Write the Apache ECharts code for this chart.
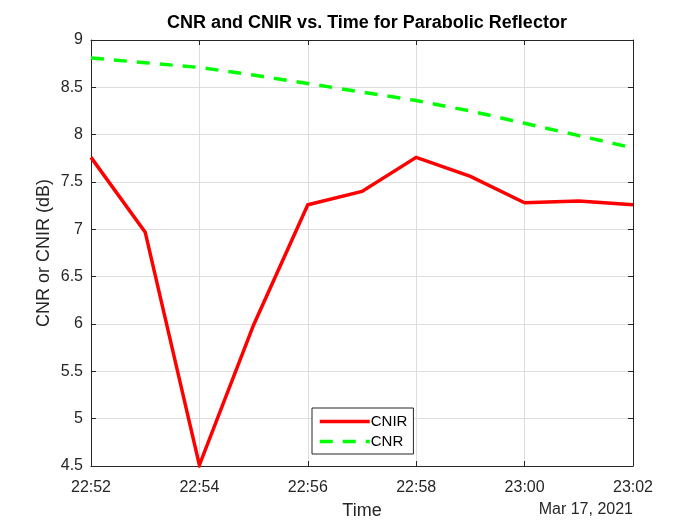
<!DOCTYPE html>
<html>
<head>
<meta charset="utf-8">
<script src="https://cdn.jsdelivr.net/npm/echarts@6/dist/echarts.min.js"></script>
<style>
  html, body { margin: 0; padding: 0; background: #fff; }
  #echart { width: 700px; height: 525px; }
</style>
</head>
<body>
<div id="echart"></div>
<script>
// time stamps, one per minute
var times = ['22:52', '22:53', '22:54', '22:55', '22:56', '22:57', '22:58', '22:59', '23:00', '23:01', '23:02'];
// values in dB
var cnir = [7.76, 6.97, 4.51, 5.99, 7.26, 7.40, 7.76, 7.56, 7.28, 7.30, 7.26];
var cnr = [8.81, 8.76, 8.71, 8.63, 8.54, 8.45, 8.36, 8.25, 8.12, 7.99, 7.86];
var yTicks = [4.5, 9, 0.5]; // min, max, step
var dateLabel = 'Mar 17, 2021';

var axisColor = '#262626';
var font = 'Liberation Sans, Arial, Helvetica, sans-serif';

var myChart = echarts.init(document.getElementById('echart'));

option = {
    backgroundColor: '#fff',
    animation: false,
    title: {
        text: 'CNR and CNIR vs. Time for Parabolic Reflector',
        left: 362,
        textAlign: 'center',
        top: 9,
        textStyle: { fontFamily: font, fontSize: 18, fontWeight: 'bold', color: '#000' }
    },
    legend: {
        orient: 'vertical',
        left: 312,
        top: 408,
        padding: [6, 6, 5, 6],
        itemGap: 5,
        itemWidth: 50,
        itemHeight: 14,
        borderColor: axisColor,
        borderWidth: 1,
        backgroundColor: '#fff',
        itemStyle: { opacity: 0 },
        lineStyle: { width: 3.5 },
        textStyle: { fontFamily: font, fontSize: 15, color: '#000', padding: [0, 0, 0, -4] },
        data: ['CNIR', 'CNR']
    },
    grid: {
        left: 91,
        right: 67,
        top: 40,
        bottom: 59,
        containLabel: false,
        outerBoundsMode: 'none'
    },
    graphic: [{
        type: 'text',
        right: 700 - 633,
        top: 502,
        style: { text: dateLabel, font: '16px ' + font, fill: axisColor }
    }],
    xAxis: [
        {
            type: 'category',
            boundaryGap: false,
            data: times,
            name: 'Time',
            nameLocation: 'middle',
            nameGap: 36,
            nameMoveOverlap: false,
            nameTextStyle: { fontFamily: font, fontSize: 18, color: axisColor },
            axisLine: { lineStyle: { color: axisColor, width: 1 } },
            axisTick: { inside: true, length: 5, interval: 1, lineStyle: { color: axisColor } },
            axisLabel: { interval: 1, margin: 14, fontFamily: font, fontSize: 16, color: axisColor },
            splitLine: { show: true, interval: 1, lineStyle: { color: '#dedede', width: 1 } }
        },
        {
            type: 'category',
            position: 'top',
            boundaryGap: false,
            data: times,
            axisLine: { lineStyle: { color: axisColor, width: 1 } },
            axisTick: { inside: true, length: 5, interval: 1, lineStyle: { color: axisColor } },
            axisLabel: { show: false },
            splitLine: { show: false }
        }
    ],
    yAxis: [
        {
            type: 'value',
            min: yTicks[0],
            max: yTicks[1],
            interval: yTicks[2],
            name: 'CNR or CNIR (dB)',
            nameLocation: 'middle',
            nameGap: 38,
            nameMoveOverlap: false,
            nameTextStyle: { fontFamily: font, fontSize: 18, color: axisColor },
            axisLine: { show: true, lineStyle: { color: axisColor, width: 1 } },
            axisTick: { show: true, inside: true, length: 5, lineStyle: { color: axisColor } },
            axisLabel: { margin: 8, fontFamily: font, fontSize: 16, color: axisColor },
            splitLine: { show: true, lineStyle: { color: '#dedede', width: 1 } }
        },
        {
            type: 'value',
            position: 'right',
            min: yTicks[0],
            max: yTicks[1],
            interval: yTicks[2],
            axisLine: { show: true, lineStyle: { color: axisColor, width: 1 } },
            axisTick: { show: true, inside: true, length: 5, lineStyle: { color: axisColor } },
            axisLabel: { show: false },
            splitLine: { show: false }
        }
    ],
    series: [
        {
            name: 'CNIR',
            type: 'line',
            data: cnir,
            symbol: 'none',
            itemStyle: { color: '#ff0000' },
            lineStyle: { color: '#ff0000', width: 3.5, join: 'miter' },
            z: 3
        },
        {
            name: 'CNR',
            type: 'line',
            data: cnr,
            symbol: 'none',
            itemStyle: { color: '#00ff00' },
            lineStyle: { color: '#00ff00', width: 3.5, type: [13, 10] },
            z: 2
        }
    ]
};
myChart.setOption(option);
</script>
</body>
</html>
